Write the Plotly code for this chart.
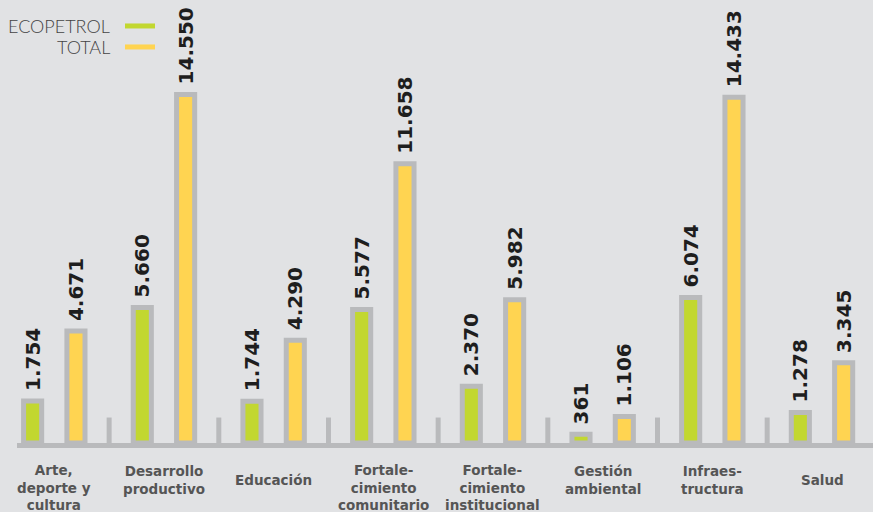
import plotly.graph_objects as go

# datos
categorias = [
    "Arte,<br>deporte y<br>cultura",
    "Desarrollo<br>productivo",
    "Educación",
    "Fortale-<br>cimiento<br>comunitario",
    "Fortale-<br>cimiento<br>institucional",
    "Gestión<br>ambiental",
    "Infraes-<br>tructura",
    "Salud",
]
ecopetrol = [1754, 5660, 1744, 5577, 2370, 361, 6074, 1278]
total = [4671, 14550, 4290, 11658, 5982, 1106, 14433, 3345]

BG = "#e1e2e4"
GRIS = "#b9babc"
VERDE = "#c2d730"
AMARILLO = "#ffd451"

W, H = 873, 512
M_TOP, M_BOT = 10, 68.5
PLOT_H = H - M_TOP - M_BOT
Y_MAX = 18073


def py(px_from_base):
    """px sobre la línea base -> coordenada paper."""
    return px_from_base / PLOT_H


x = list(range(len(categorias)))
fig = go.Figure()
for name, vals, color, offset in [("ECOPETROL", ecopetrol, VERDE, -0.28),
                                  ("TOTAL", total, AMARILLO, 0.115)]:
    fig.add_trace(go.Bar(
        x=x, y=vals, name=name, width=0.165, offset=offset,
        marker=dict(color=color, line=dict(color=GRIS, width=5)),
        texttemplate="\u00a0%{y:,}", textposition="outside", textangle=-90,
        constraintext="none", cliponaxis=False,
        textfont=dict(family="DejaVu Sans", size=20, color="#1e1e1e", weight="bold"),
        hoverinfo="skip",
    ))

shapes = [
    # línea base
    dict(type="line", xref="paper", yref="paper", x0=17 / W, x1=1,
         y0=py(-2.5), y1=py(-2.5), line=dict(color=GRIS, width=5)),
]
# separadores entre categorías
for i in range(len(categorias) - 1):
    shapes.append(dict(type="line", xref="x", yref="paper", x0=i + 0.5, x1=i + 0.5,
                       y0=py(-2.5), y1=py(25.5), line=dict(color=GRIS, width=5)))
# leyenda a mano (muestra a la derecha del texto)
for yy, color in [(26, VERDE), (47, AMARILLO)]:
    shapes.append(dict(type="line", xref="paper", yref="paper", x0=125 / W, x1=155 / W,
                       y0=py(443.5 - yy), y1=py(443.5 - yy), line=dict(color=color, width=5)))

annotations = []
for i, cat in enumerate(categorias):
    n = cat.count("<br>") + 1
    annotations.append(dict(
        x=i, xref="x", y=py(-37.5), yref="paper", text=cat, showarrow=False,
        yanchor="middle", yshift=-7 if n == 3 else 0,
        font=dict(family="DejaVu Sans", size=13.5, color="#555555", weight="bold"),
    ))
for yy, name in [(26, "ECOPETROL"), (47, "TOTAL")]:
    annotations.append(dict(
        x=112 / W, xref="paper", y=py(443.5 - yy), yref="paper", text=name,
        showarrow=False, xanchor="right", yanchor="middle",
        font=dict(family="Lato", size=18, color="#444444", weight=300),
    ))

fig.update_layout(
    width=W, height=H, barmode="overlay", showlegend=False,
    paper_bgcolor=BG, plot_bgcolor=BG, separators=",.",
    margin=dict(l=0, r=0, t=M_TOP, b=M_BOT),
    xaxis=dict(range=[-0.495, 7.465], showticklabels=False, showgrid=False,
               zeroline=False, showline=False, fixedrange=True),
    yaxis=dict(range=[0, Y_MAX], visible=False, fixedrange=True),
    shapes=shapes, annotations=annotations,
)
fig.write_html("out.html", config={"displayModeBar": False},
               post_script="document.body.style.margin='0';")
